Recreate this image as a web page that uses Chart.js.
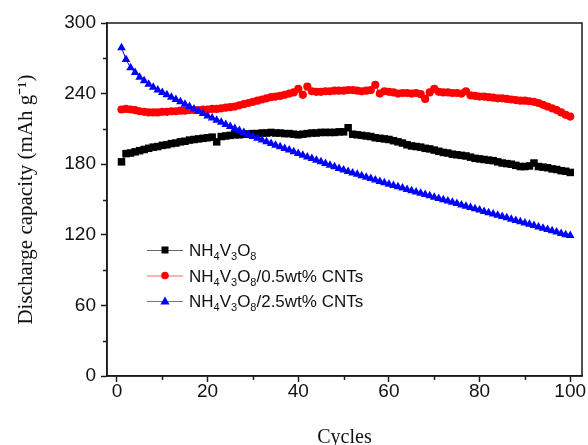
<!DOCTYPE html>
<html>
<head>
<meta charset="utf-8">
<script src="https://cdn.jsdelivr.net/npm/chart.js@4.4.0/dist/chart.umd.min.js"></script>
<style>
    html, body { margin: 0; padding: 0; background: #fff; }
    #wrap { width: 588px; height: 445px; position: relative; }
</style>
</head>
<body>
<div id="wrap"><canvas id="capacityChart"></canvas></div>
<script>
// Cycle numbers (x values)
const cycles = [
    1, 2, 3, 4, 5, 6, 7, 8, 9, 10, 11, 12, 13, 14, 15, 16, 17, 18, 19, 20,
    21, 22, 23, 24, 25, 26, 27, 28, 29, 30, 31, 32, 33, 34, 35, 36, 37, 38, 39, 40,
    41, 42, 43, 44, 45, 46, 47, 48, 49, 50, 51, 52, 53, 54, 55, 56, 57, 58, 59, 60,
    61, 62, 63, 64, 65, 66, 67, 68, 69, 70, 71, 72, 73, 74, 75, 76, 77, 78, 79, 80,
    81, 82, 83, 84, 85, 86, 87, 88, 89, 90, 91, 92, 93, 94, 95, 96, 97, 98, 99, 100
];

// Discharge capacity, mAh/g
const pureNVO = [
    182, 189, 189.5, 190.5, 191.5, 192.5, 193.5, 194.5, 195, 196,
    196.5, 197.5, 198, 199, 199.5, 200.5, 201, 201.5, 202, 202.5,
    203, 199, 203.5, 204, 204.5, 205, 205, 205.5, 205.5, 206,
    206, 206.5, 206.5, 207, 206.5, 206.5, 206, 206, 205.5, 205,
    205.5, 206, 206.5, 206.5, 207, 207, 207, 207, 207.5, 207.5,
    211, 205.5, 205, 204.5, 204, 203.5, 202.5, 202, 201.5, 201,
    200, 199, 198, 196.5, 195.5, 195, 194.5, 193.5, 193, 192,
    191, 190, 189.5, 188.5, 188, 187.5, 187, 186, 185, 184.5,
    184, 183.5, 183, 182, 181, 180.5, 180, 179, 178, 178,
    178.5, 181, 178, 177.5, 177, 176, 175.5, 174.5, 174, 173
];

const cnt05 = [
    226.5, 227, 226.5, 226, 225, 224.5, 224, 224, 224, 224.5,
    224.5, 225, 225, 225.5, 225.5, 226, 226, 226, 226.5, 226.5,
    227, 227, 227.5, 228, 228.5, 229, 230, 231, 232, 233,
    234, 235, 236, 237, 237.5, 238, 239, 240, 241, 244,
    239, 246, 242, 241.5, 241.5, 242, 242, 242.5, 242.5, 242.5,
    243, 243, 242.5, 242, 242.5, 243, 247.5, 240, 242, 241.5,
    241, 240, 240.5, 240.5, 240, 240.5, 239.5, 235.5, 241, 244,
    241.5, 241, 241, 240.5, 240.5, 240, 242, 238.5, 238, 237.5,
    237.5, 237, 236.5, 236, 236, 235.5, 235, 234.5, 234, 234,
    233.5, 233, 232, 230.5, 229, 227.5, 226, 224, 222, 220.5
];

const cnt25 = [
    279, 269, 262, 258, 254, 251, 248, 245.5, 243, 241,
    239, 237, 235, 233, 231, 229, 227, 225, 223, 221,
    219.2, 217.4, 215.6, 213.8, 212, 210.3, 208.6, 206.9, 205.2, 203.5,
    202, 200.5, 199, 197.6, 196.2, 194.8, 193.4, 192, 190.5, 189,
    187.6, 186.2, 184.8, 183.4, 182, 180.6, 179.2, 177.8, 176.4, 175,
    173.8, 172.6, 171.4, 170.2, 169, 167.8, 166.6, 165.4, 164.2, 163,
    161.9, 160.8, 159.7, 158.6, 157.5, 156.4, 155.3, 154.2, 153.1, 152,
    150.9, 149.8, 148.7, 147.6, 146.5, 145.4, 144.3, 143.2, 142.1, 141,
    139.9, 138.8, 137.7, 136.6, 135.5, 134.4, 133.3, 132.2, 131.1, 130,
    128.9, 127.8, 126.7, 125.6, 124.5, 123.4, 122.3, 121.2, 120.1, 119.5
];

// Legend labels ("_n" marks a subscript digit)
const seriesLabels = ['NH_4V_3O_8', 'NH_4V_3O_8/0.5wt% CNTs', 'NH_4V_3O_8/2.5wt% CNTs'];
const seriesColors = ['#000000', '#ff0000', '#0000ff'];
const seriesMarkers = ['rect', 'circle', 'triangle'];

// Axis ticks
const xMajorTicks = [0, 20, 40, 60, 80, 100];
const xMinorTicks = [10, 30, 50, 70, 90];
const yMajorTicks = [0, 60, 120, 180, 240, 300];
const yMinorTicks = [30, 90, 150, 210, 270];

const axisColor = '#1a1a1a';
const sansFont = "'Liberation Sans', Arial, sans-serif";
const serifFont = "'Liberation Serif', 'Times New Roman', serif";

function toPoints(values) {
    return cycles.map((c, i) => ({ x: c, y: values[i] }));
}

// Box frame + short minor ticks
const frameAndMinorTicks = {
    id: 'frameAndMinorTicks',
    afterDraw(chart) {
        const { ctx, chartArea: a, scales: { x, y } } = chart;
        ctx.save();
        ctx.strokeStyle = axisColor;
        ctx.lineWidth = 1.5;
        ctx.strokeRect(a.left, a.top, a.right - a.left, a.bottom - a.top);
        ctx.beginPath();
        xMinorTicks.forEach(v => {
            const px = Math.round(x.getPixelForValue(v)) + 0.5;
            ctx.moveTo(px, a.bottom);
            ctx.lineTo(px, a.bottom + 4);
        });
        yMinorTicks.forEach(v => {
            const py = Math.round(y.getPixelForValue(v)) + 0.5;
            ctx.moveTo(a.left, py);
            ctx.lineTo(a.left - 4, py);
        });
        ctx.stroke();
        ctx.restore();
    }
};

// Legend inside the plot, with subscripts
function drawMarker(ctx, style, cx, cy) {
    ctx.beginPath();
    if (style === 'rect') {
        ctx.rect(cx - 3.5, cy - 3.5, 7, 7);
    } else if (style === 'circle') {
        ctx.arc(cx, cy, 3.8, 0, Math.PI * 2);
    } else {
        ctx.moveTo(cx, cy - 4.5);
        ctx.lineTo(cx + 4.6, cy + 3.5);
        ctx.lineTo(cx - 4.6, cy + 3.5);
        ctx.closePath();
    }
    ctx.fill();
}

function drawRichText(ctx, text, x, baseline) {
    text.split(/(_\d)/).forEach(part => {
        if (!part) return;
        if (part[0] === '_') {
            ctx.font = `11px ${sansFont}`;
            ctx.fillText(part.slice(1), x, baseline + 4);
            x += ctx.measureText(part.slice(1)).width;
        } else {
            ctx.font = `17px ${sansFont}`;
            ctx.fillText(part, x, baseline);
            x += ctx.measureText(part).width;
        }
    });
}

const subscriptLegend = {
    id: 'subscriptLegend',
    afterDraw(chart) {
        const { ctx, chartArea: a } = chart;
        ctx.save();
        seriesLabels.forEach((label, i) => {
            const rowY = a.top + 227 + i * 25.5;
            const x0 = a.left + 40;
            ctx.strokeStyle = seriesColors[i];
            ctx.globalAlpha = 0.6;
            ctx.lineWidth = 1;
            ctx.beginPath();
            ctx.moveTo(x0, rowY + 0.5);
            ctx.lineTo(x0 + 36, rowY + 0.5);
            ctx.stroke();
            ctx.globalAlpha = 1;
            ctx.fillStyle = seriesColors[i];
            drawMarker(ctx, seriesMarkers[i], x0 + 18, rowY);
            ctx.fillStyle = '#111';
            ctx.textBaseline = 'alphabetic';
            drawRichText(ctx, label, x0 + 42, rowY + 6);
        });
        ctx.restore();
    }
};

const seriesValues = [pureNVO, cnt05, cnt25];
const radii = [5.3, 4.1, 5.0];

new Chart(document.getElementById('capacityChart'), {
    type: 'line',
    data: {
        datasets: seriesValues.map((vals, i) => ({
            label: seriesLabels[i],
            data: toPoints(vals),
            borderColor: seriesColors[i],
            backgroundColor: seriesColors[i],
            borderWidth: 1,
            pointStyle: seriesMarkers[i],
            pointRadius: radii[i],
            pointBorderWidth: 0,
            tension: 0,
            order: 2 - i
        }))
    },
    options: {
        responsive: true,
        maintainAspectRatio: false,
        animation: false,
        layout: { padding: { top: 23, right: 6, left: 0, bottom: 0 } },
        plugins: {
            legend: { display: false },
            tooltip: { enabled: false }
        },
        scales: {
            x: {
                type: 'linear',
                min: -2.2,
                max: 102.6,
                afterBuildTicks: s => { s.ticks = xMajorTicks.map(v => ({ value: v })); },
                afterFit: s => { s.height = 69; },
                grid: { drawOnChartArea: false, drawTicks: true, tickLength: 6, tickWidth: 1.5, tickColor: axisColor },
                border: { display: true, color: axisColor, width: 1.5 },
                ticks: {
                    font: { family: sansFont, size: 19, lineHeight: 1 },
                    color: '#111',
                    padding: 0,
                    maxRotation: 0,
                    autoSkip: false
                },
                title: {
                    display: true,
                    text: 'Cycles',
                    font: { family: serifFont, size: 20, lineHeight: 1 },
                    color: '#111',
                    padding: { top: 0, bottom: -3 }
                }
            },
            y: {
                type: 'linear',
                min: 0,
                max: 300,
                afterBuildTicks: s => { s.ticks = yMajorTicks.map(v => ({ value: v })); },
                afterFit: s => { s.width = 107; },
                grid: { drawOnChartArea: false, drawTicks: true, tickLength: 6, tickWidth: 1.5, tickColor: axisColor },
                border: { display: true, color: axisColor, width: 1.5 },
                ticks: {
                    font: { family: sansFont, size: 19 },
                    color: '#111',
                    padding: 5
                },
                title: {
                    display: true,
                    text: 'Discharge capacity (mAh g\u207B\u00B9)',
                    font: { family: serifFont, size: 21, lineHeight: 1 },
                    color: '#111',
                    padding: { top: 16, bottom: 0 }
                }
            }
        }
    },
    plugins: [frameAndMinorTicks, subscriptLegend]
});
</script>
</body>
</html>
